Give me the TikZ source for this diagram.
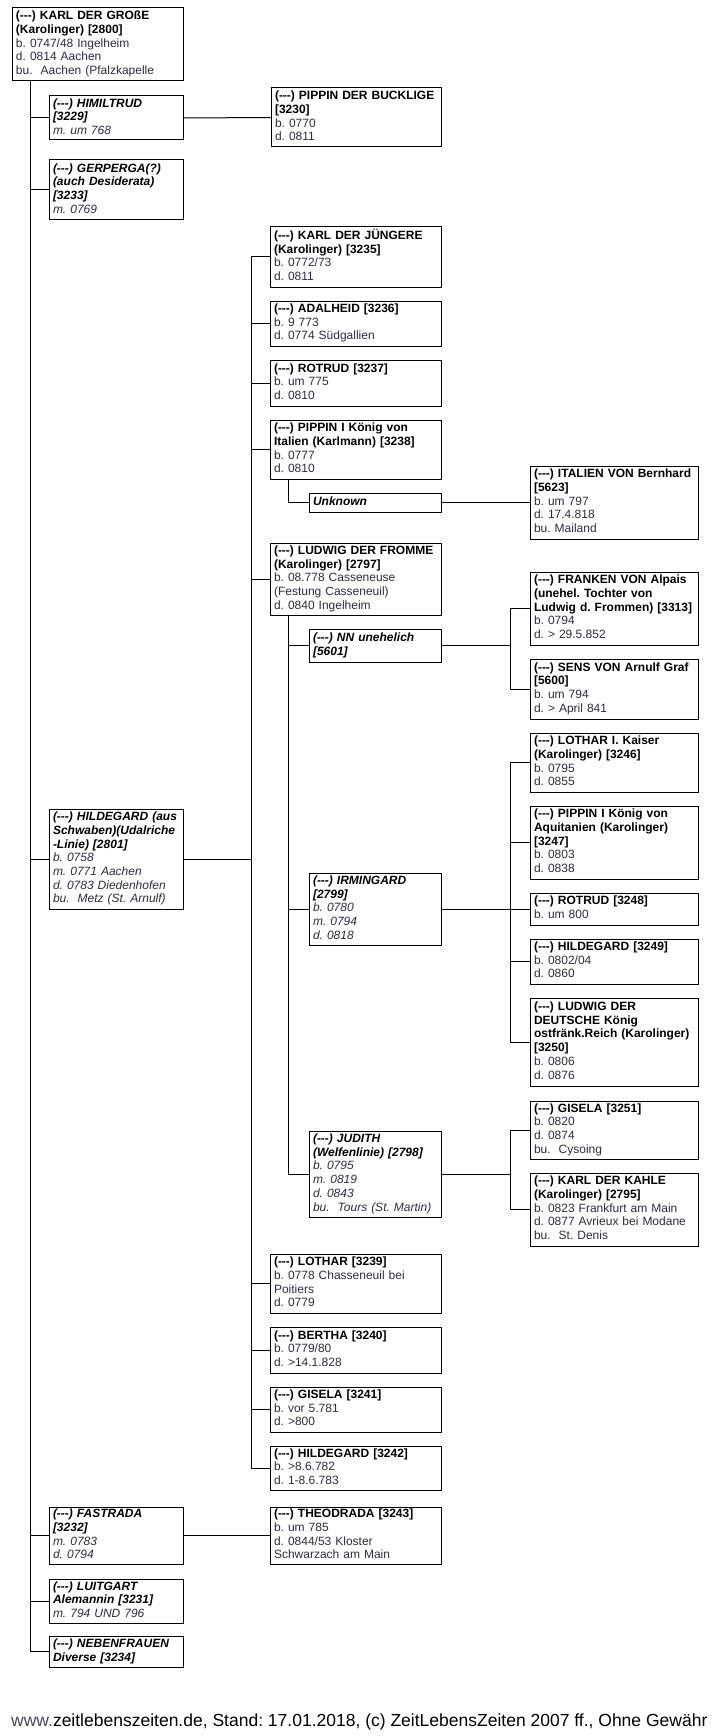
\documentclass[tikz,border=0pt]{standalone}
\usepackage{fontspec}
\setmainfont{Liberation Sans}[Ligatures=TeXOff]
\frenchspacing
\definecolor{dt}{RGB}{45,45,65}
\definecolor{wwwc}{RGB}{70,70,90}
\newcommand\nmb[1]{\textbf{#1}}
\newcommand\dtl[1]{{\color{dt}#1}}
\newcommand\nmi[1]{\textbf{\itshape #1}}
\newcommand\dti[1]{{\color{dt}\itshape #1}}
\newcommand\pbx[6]{%
  \pgfmathsetmacro\bw{#4-#2}\pgfmathsetmacro\bh{#5-#3}\pgfmathsetmacro\tw{#4-#2-8}%
  \node[pb,minimum width=\bw pt,minimum height=\bh pt,text width=\tw pt] (#1) at ({(#2+#4)/2},{(#3+#5)/2}) {\begin{tabular}{@{}l@{}}#6\end{tabular}};}
\tikzset{
  pb/.style={draw,line width=1pt,fill=white,inner xsep=4pt,inner ysep=0pt,align=left,font=\fontsize{12}{13.7}\selectfont\frenchspacing},
  ln/.style={line width=1pt}
}
\begin{document}
\begin{tikzpicture}[x=1pt,y=-1pt]
\useasboundingbox[fill=white] (0,0) rectangle (726,1736);
% generation 0
\pbx{karl}{12}{8}{183}{81}{\nmb{(---) KARL DER GROßE}\\\nmb{(Karolinger) [2800]}\\\dtl{b. 0747/48 Ingelheim}\\\dtl{d. 0814 Aachen}\\\dtl{bu.\ \ Aachen (Pfalzkapelle}}
% spouses
\pbx{him}{49}{96}{183}{140}{\nmi{(---) HIMILTRUD}\\\nmi{[3229]}\\\dti{m. um 768}}
\pbx{ger}{49}{160}{183}{220}{\nmi{(---) GERPERGA(?)}\\\nmi{(auch Desiderata)}\\\nmi{[3233]}\\\dti{m. 0769}}
\pbx{hil}{49}{809}{183}{909}{\nmi{(---) HILDEGARD (aus}\\\nmi{Schwaben)(Udalriche}\\\nmi{-Linie) [2801]}\\\dti{b. 0758}\\\dti{m. 0771 Aachen}\\\dti{d. 0783 Diedenhofen}\\\dti{bu.\ \ Metz (St. Arnulf)}}
\pbx{fas}{49}{1507}{183}{1564}{\nmi{(---) FASTRADA}\\\nmi{[3232]}\\\dti{m. 0783}\\\dti{d. 0794}}
\pbx{lui}{49}{1579}{183}{1623}{\nmi{(---) LUITGART}\\\nmi{Alemannin [3231]}\\\dti{m. 794 UND 796}}
\pbx{neb}{49}{1636}{183}{1667}{\nmi{(---) NEBENFRAUEN}\\\nmi{Diverse [3234]}}
% children
\pbx{pbu}{271}{88}{441}{147}{\nmb{(---) PIPPIN DER BUCKLIGE}\\\nmb{[3230]}\\\dtl{b. 0770}\\\dtl{d. 0811}}
\pbx{kdj}{270}{227}{441}{287}{\nmb{(---) KARL DER JÜNGERE}\\\nmb{(Karolinger) [3235]}\\\dtl{b. 0772/73}\\\dtl{d. 0811}}
\pbx{ada}{270}{301}{441}{346}{\nmb{(---) ADALHEID [3236]}\\\dtl{b. 9 773}\\\dtl{d. 0774 Südgallien}}
\pbx{rot}{270}{360}{441}{406}{\nmb{(---) ROTRUD [3237]}\\\dtl{b. um 775}\\\dtl{d. 0810}}
\pbx{pip}{270}{420}{441}{479}{\nmb{(---) PIPPIN I König von}\\\nmb{Italien (Karlmann) [3238]}\\\dtl{b. 0777}\\\dtl{d. 0810}}
\pbx{unk}{309}{493}{441}{512}{\nmi{Unknown}}
\pbx{ita}{530}{466}{698}{539}{\nmb{(---) ITALIEN VON Bernhard}\\\nmb{[5623]}\\\dtl{b. um 797}\\\dtl{d. 17.4.818}\\\dtl{bu. Mailand}}
\pbx{lud}{270}{543}{441}{615}{\nmb{(---) LUDWIG DER FROMME}\\\nmb{(Karolinger) [2797]}\\\dtl{b. 08.778 Casseneuse}\\\dtl{(Festung Casseneuil)}\\\dtl{d. 0840 Ingelheim}}
\pbx{nn}{309}{629}{441}{662}{\nmi{(---) NN unehelich}\\\nmi{[5601]}}
\pbx{fra}{530}{572}{698}{645}{\nmb{(---) FRANKEN VON Alpais}\\\nmb{(unehel. Tochter von}\\\nmb{Ludwig d. Frommen) [3313]}\\\dtl{b. 0794}\\\dtl{d. > 29.5.852}}
\pbx{sen}{530}{659}{698}{719}{\nmb{(---) SENS VON Arnulf Graf}\\\nmb{[5600]}\\\dtl{b. um 794}\\\dtl{d. > April 841}}
\pbx{irm}{309}{873}{441}{945}{\nmi{(---) IRMINGARD}\\\nmi{[2799]}\\\dti{b. 0780}\\\dti{m. 0794}\\\dti{d. 0818}}
\pbx{lo1}{530}{733}{698}{792}{\nmb{(---) LOTHAR I. Kaiser}\\\nmb{(Karolinger) [3246]}\\\dtl{b. 0795}\\\dtl{d. 0855}}
\pbx{paq}{530}{806}{698}{879}{\nmb{(---) PIPPIN I König von}\\\nmb{Aquitanien (Karolinger)}\\\nmb{[3247]}\\\dtl{b. 0803}\\\dtl{d. 0838}}
\pbx{r48}{530}{893}{698}{925}{\nmb{(---) ROTRUD [3248]}\\\dtl{b. um 800}}
\pbx{h49}{530}{939}{698}{984}{\nmb{(---) HILDEGARD [3249]}\\\dtl{b. 0802/04}\\\dtl{d. 0860}}
\pbx{ldd}{530}{998}{698}{1086}{\nmb{(---) LUDWIG DER}\\\nmb{DEUTSCHE König}\\\nmb{ostfränk.Reich (Karolinger)}\\\nmb{[3250]}\\\dtl{b. 0806}\\\dtl{d. 0876}}
\pbx{jud}{309}{1131}{441}{1217}{\nmi{(---) JUDITH}\\\nmi{(Welfenlinie) [2798]}\\\dti{b. 0795}\\\dti{m. 0819}\\\dti{d. 0843}\\\dti{bu.\ \ Tours (St. Martin)}}
\pbx{g51}{530}{1101}{698}{1159}{\nmb{(---) GISELA [3251]}\\\dtl{b. 0820}\\\dtl{d. 0874}\\\dtl{bu.\ \ Cysoing}}
\pbx{kka}{530}{1173}{698}{1246}{\nmb{(---) KARL DER KAHLE}\\\nmb{(Karolinger) [2795]}\\\dtl{b. 0823 Frankfurt am Main}\\\dtl{d. 0877 Avrieux bei Modane}\\\dtl{bu.\ \ St. Denis}}
\pbx{lo2}{270}{1254}{441}{1313}{\nmb{(---) LOTHAR [3239]}\\\dtl{b. 0778 Chasseneuil bei}\\\dtl{Poitiers}\\\dtl{d. 0779}}
\pbx{ber}{270}{1327}{441}{1373}{\nmb{(---) BERTHA [3240]}\\\dtl{b. 0779/80}\\\dtl{d. >14.1.828}}
\pbx{g41}{270}{1387}{441}{1432}{\nmb{(---) GISELA [3241]}\\\dtl{b. vor 5.781}\\\dtl{d. >800}}
\pbx{h42}{270}{1446}{441}{1490}{\nmb{(---) HILDEGARD [3242]}\\\dtl{b. >8.6.782}\\\dtl{d. 1-8.6.783}}
\pbx{the}{270}{1507}{441}{1564}{\nmb{(---) THEODRADA [3243]}\\\dtl{b. um 785}\\\dtl{d. 0844/53 Kloster}\\\dtl{Schwarzach am Main}}
% connectors
\coordinate (k0) at (30,81);
\draw[ln] (k0) -- (k0 |- neb.west) -- (neb.west);
\foreach \s in {him,ger,hil,fas,lui} \draw[ln] (k0 |- \s.west) -- (\s.west);
\draw[ln] (him.east) -- (pbu.west);
\draw[ln] (fas.east) -- (the.west);
\coordinate (h0) at (251,0);
\draw[ln] (hil.east) -- (h0 |- hil.east);
\draw[ln] (h0 |- kdj.west) -- (h0 |- h42.west);
\foreach \c in {kdj,ada,rot,pip,lud,lo2,ber,g41,h42} \draw[ln] (h0 |- \c.west) -- (\c.west);
\draw[ln] (pip.south west) ++(19,0) |- (unk.west);
\draw[ln] (unk.east) -- (ita.west);
\draw[ln] (lud.south west) ++(19,0) coordinate (l0) |- (jud.west);
\draw[ln] (l0 |- nn.west) -- (nn.west);
\draw[ln] (l0 |- irm.west) -- (irm.west);
\coordinate (v1) at (510,0);
\draw[ln] (nn.east) -- (v1 |- nn.east);
\draw[ln] (v1 |- fra.west) -- (v1 |- sen.west);
\foreach \c in {fra,sen} \draw[ln] (v1 |- \c.west) -- (\c.west);
\draw[ln] (irm.east) -- (v1 |- irm.east);
\draw[ln] (v1 |- lo1.west) -- (v1 |- ldd.west);
\foreach \c in {lo1,paq,r48,h49,ldd} \draw[ln] (v1 |- \c.west) -- (\c.west);
\draw[ln] (jud.east) -- (v1 |- jud.east);
\draw[ln] (v1 |- g51.west) -- (v1 |- kka.west);
\foreach \c in {g51,kka} \draw[ln] (v1 |- \c.west) -- (\c.west);
% footer
\node[anchor=base west,inner sep=0pt,font=\fontsize{17.5}{20}\selectfont] (foot) at (11,1726) {{\color{wwwc}www.}zeitlebenszeiten.de, Stand: 17.01.2018, (c) ZeitLebensZeiten 2007 ff., Ohne Gewähr};
\end{tikzpicture}
\end{document}
